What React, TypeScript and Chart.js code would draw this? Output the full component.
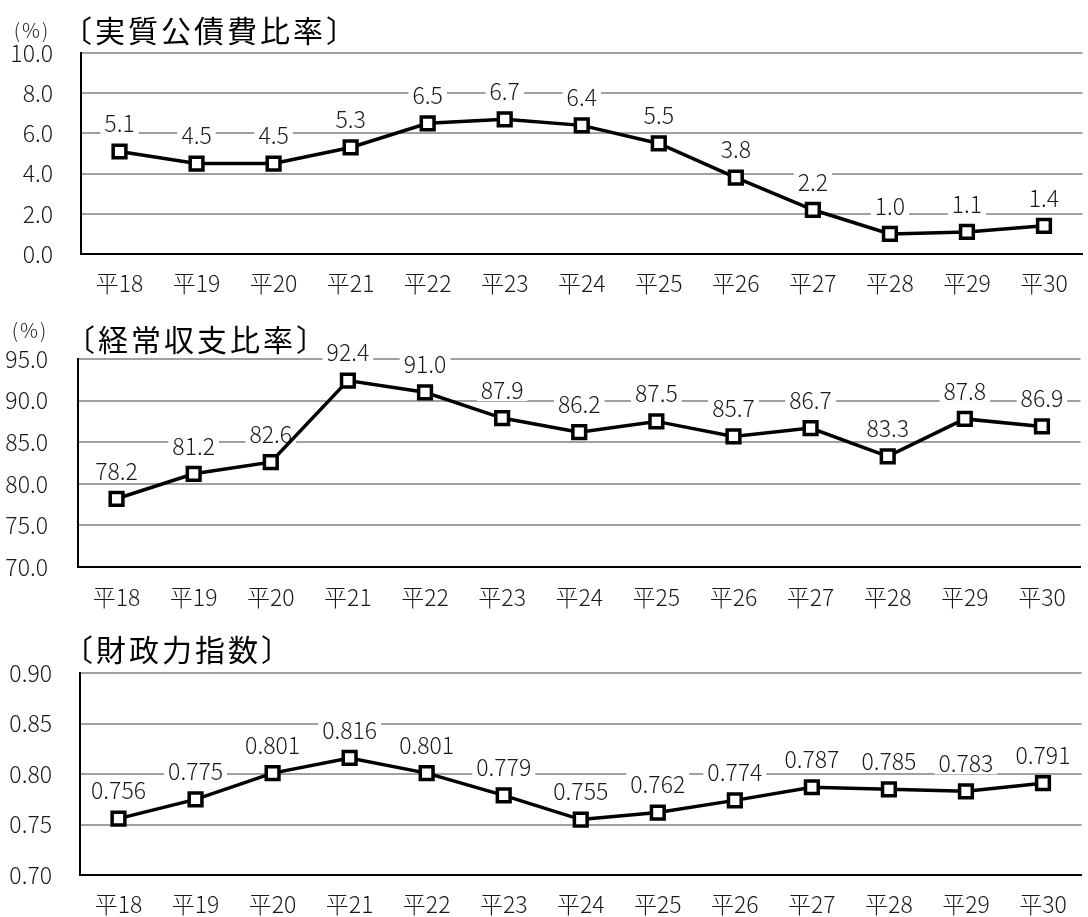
import React, { useEffect, useRef } from 'react';
import { Chart, registerables } from 'chart.js';

Chart.register(...registerables);

// ---- data ----
const years = ['平18', '平19', '平20', '平21', '平22', '平23', '平24', '平25', '平26', '平27', '平28', '平29', '平30'];
const debtServiceRatio = [5.1, 4.5, 4.5, 5.3, 6.5, 6.7, 6.4, 5.5, 3.8, 2.2, 1.0, 1.1, 1.4];
const currentBalanceRatio = [78.2, 81.2, 82.6, 92.4, 91.0, 87.9, 86.2, 87.5, 85.7, 86.7, 83.3, 87.8, 86.9];
const fiscalCapacityIndex = [0.756, 0.775, 0.801, 0.816, 0.801, 0.779, 0.755, 0.762, 0.774, 0.787, 0.785, 0.783, 0.791];
const debtTicks = [0, 2, 4, 6, 8, 10];
const currentTicks = [70, 75, 80, 85, 90, 95];
const fiscalTicks = [0.7, 0.75, 0.8, 0.85, 0.9];
const titles = ['〔実質公債費比率〕', '〔経常収支比率〕', '〔財政力指数〕'];
const unitLabel = '(%)';

const FONT = "'Noto Sans CJK JP', 'Noto Sans', sans-serif";
const TEXT = '#1a1a1a';
const NUM_SIZE = 23;
const NUM_WEIGHT = 300;

type Cfg = {
  top: number; height: number; width: number;
  plotTop: number; plotBottom: number; plotLeft: number;
  yPad: number; xPad: number;
  title: string; titleX: number; titleY: number;
  unit: string | null; unitX: number; unitY: number;
  values: number[]; ticks: number[]; tickDigits: number; labelDigits: number;
};

const configs: Cfg[] = [
  {
    top: 0, height: 305, width: 1095, plotTop: 53, plotBottom: 254, plotLeft: 81, yPad: 28, xPad: 15,
    title: titles[0], titleX: 62, titleY: 31, unit: unitLabel, unitX: 32, unitY: 30,
    values: debtServiceRatio, ticks: debtTicks, tickDigits: 1, labelDigits: 1,
  },
  {
    top: 305, height: 310, width: 1093, plotTop: 359, plotBottom: 567, plotLeft: 78, yPad: 30, xPad: 16,
    title: titles[1], titleX: 65, titleY: 340, unit: unitLabel, unitX: 30, unitY: 330,
    values: currentBalanceRatio, ticks: currentTicks, tickDigits: 1, labelDigits: 1,
  },
  {
    top: 615, height: 302, width: 1094, plotTop: 673, plotBottom: 876, plotLeft: 80, yPad: 28, xPad: 15,
    title: titles[2], titleX: 63, titleY: 650, unit: null, unitX: 0, unitY: 0,
    values: fiscalCapacityIndex, ticks: fiscalTicks, tickDigits: 2, labelDigits: 3,
  },
];

function LineChart({ cfg }: { cfg: Cfg }) {
  const ref = useRef<HTMLCanvasElement | null>(null);
  useEffect(() => {
    if (!ref.current) return;
    const min = cfg.ticks[0];
    const max = cfg.ticks[cfg.ticks.length - 1];
    const labelPlugin = {
      id: 'valueLabels',
      beforeDatasetsDraw(chart: any) {
        const ctx = chart.ctx;
        const meta = chart.getDatasetMeta(0);
        ctx.save();
        ctx.font = `${NUM_WEIGHT} ${NUM_SIZE}px ${FONT}`;
        ctx.textAlign = 'center';
        ctx.textBaseline = 'middle';
        meta.data.forEach((pt: any, i: number) => {
          const txt = cfg.values[i].toFixed(cfg.labelDigits);
          const w = ctx.measureText(txt).width;
          const cx = pt.x;
          const cy = pt.y - 29;
          ctx.fillStyle = '#ffffff';
          ctx.fillRect(cx - w / 2 - 4, cy - 12, w + 8, 24);
          ctx.fillStyle = TEXT;
          ctx.fillText(txt, cx, cy + 1);
        });
        ctx.restore();
      },
      afterDraw(chart: any) {
        const ctx = chart.ctx;
        ctx.save();
        ctx.fillStyle = '#000';
        ctx.textBaseline = 'middle';
        ctx.textAlign = 'left';
        ctx.font = `400 30px ${FONT}`;
        (ctx as any).letterSpacing = '3px';
        ctx.fillText(cfg.title, cfg.titleX, cfg.titleY - cfg.top);
        if (cfg.unit) {
          ctx.font = `${NUM_WEIGHT} 20px ${FONT}`;
          (ctx as any).letterSpacing = '2px';
          ctx.textAlign = 'center';
          ctx.fillStyle = TEXT;
          ctx.fillText(cfg.unit, cfg.unitX, cfg.unitY - cfg.top);
        }
        ctx.restore();
      },
    };
    const chart = new Chart(ref.current, {
      type: 'line',
      data: {
        labels: years,
        datasets: [
          {
            data: cfg.values,
            borderColor: '#000',
            borderWidth: 3.5,
            pointStyle: 'rect',
            pointRadius: 9,
            pointHoverRadius: 9,
            pointBackgroundColor: '#fff',
            pointBorderColor: '#000',
            pointBorderWidth: 3.5,
            tension: 0,
            clip: false as any,
          },
        ],
      },
      options: {
        responsive: false,
        animation: false,
        events: [],
        layout: { padding: { top: cfg.plotTop - cfg.top, left: 0, right: 0, bottom: 0 } },
        plugins: { legend: { display: false }, tooltip: { enabled: false }, title: { display: false } },
        scales: {
          x: {
            type: 'category',
            offset: true,
            grid: { display: false, drawTicks: false },
            border: { color: '#000', width: 2 },
            ticks: { padding: cfg.xPad, font: { family: FONT, size: NUM_SIZE, weight: NUM_WEIGHT }, color: TEXT, maxRotation: 0, autoSkip: false },
            afterFit: (s: any) => { s.height = cfg.top + cfg.height - cfg.plotBottom; },
          },
          y: {
            min, max,
            afterBuildTicks: (s: any) => { s.ticks = cfg.ticks.map((v) => ({ value: v })); },
            afterFit: (s: any) => { s.width = cfg.plotLeft; },
            grid: {
              drawTicks: false,
              lineWidth: 2,
              color: (c: any) => (c.tick && c.tick.value === min ? 'rgba(0,0,0,0)' : '#a0a0a0'),
            },
            border: { color: '#000', width: 2 },
            ticks: {
              padding: cfg.yPad,
              font: { family: FONT, size: NUM_SIZE, weight: NUM_WEIGHT },
              color: TEXT,
              callback: (v: any) => Number(v).toFixed(cfg.tickDigits),
            },
          },
        },
      } as any,
      plugins: [labelPlugin],
    });
    return () => chart.destroy();
  }, [cfg]);
  return (
    <canvas
      ref={ref}
      width={cfg.width}
      height={cfg.height}
      style={{ position: 'absolute', left: 0, top: cfg.top, width: cfg.width, height: cfg.height, display: 'block' }}
    />
  );
}

export default function App() {
  return (
    <div style={{ position: 'fixed', left: 0, top: 0, width: 1088, height: 917, overflow: 'hidden', background: '#fff' }}>
      {configs.map((c, i) => (
        <LineChart key={i} cfg={c} />
      ))}
    </div>
  );
}
